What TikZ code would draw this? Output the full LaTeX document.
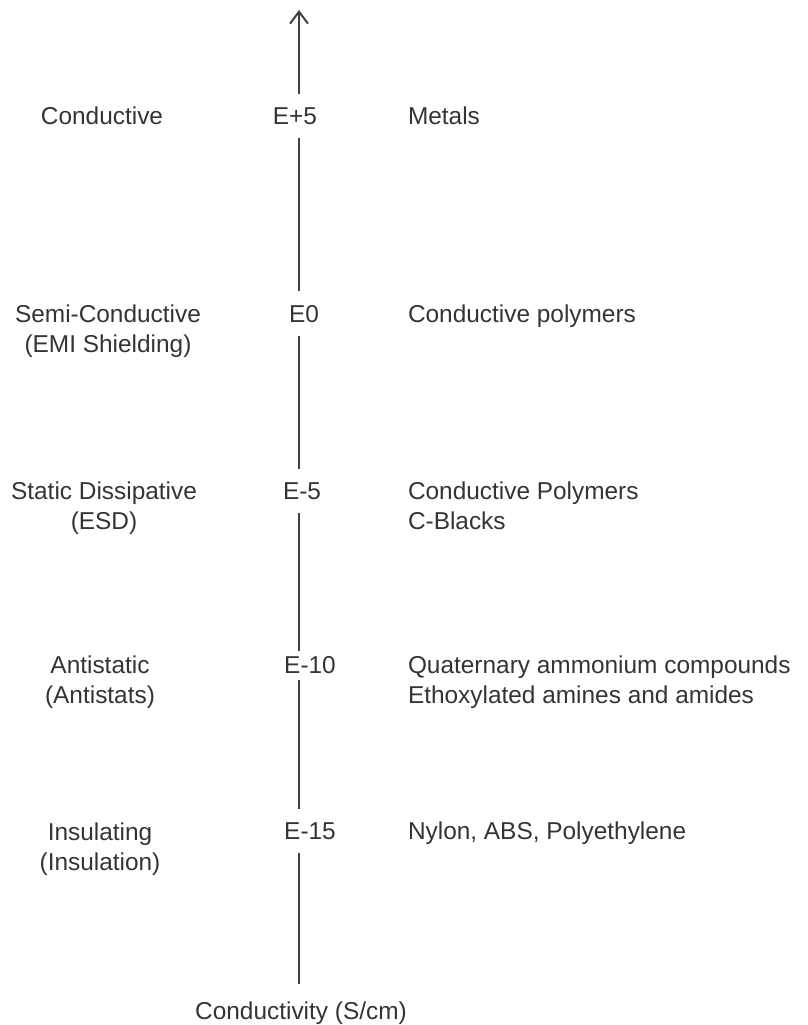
\documentclass[tikz,border=0pt]{standalone}
\usepackage{fontspec}
\setmainfont{Liberation Sans}
\usepackage{xcolor}
\usepackage{tikz}
\usetikzlibrary{arrows.meta}
\definecolor{cond@ink}{RGB}{52,52,52}
\definecolor{cond@line}{RGB}{64,64,64}
\tikzset{
  condscale/.style={
    x=1bp, y=-1bp,
    font=\fontsize{24.5}{30}\selectfont,
    >={Straight Barb[length=12bp,width=18bp]},
    line width=2bp
  },
  kind/.style={                    % class of material, left column (base = last line)
    anchor=base, align=center, inner sep=0pt, text=cond@ink
  },
  decade/.style={                  % value on the axis
    anchor=base, inner xsep=2bp, inner ysep=12.5bp, text=cond@ink
  },
  material/.style={                % typical materials, right column
    anchor=base west, align=left, inner sep=0pt, text=cond@ink
  },
  unitlabel/.style={anchor=base, inner xsep=2bp, inner ysep=16bp, text=cond@ink},
  axisline/.style={draw=cond@line, line width=2bp}
}
\begin{document}
\begin{tikzpicture}[condscale]
\useasboundingbox (0,0) rectangle (808,1025);

% left column: classes
\node[kind] (conductive) at (102,124) {Conductive};
\node[kind] (semi)       at (108,352) {Semi-Conductive\\(EMI Shielding)};
\node[kind] (static)     at (104,529) {Static Dissipative\\(ESD)};
\node[kind] (antistatic) at (100,703) {Antistatic\\(Antistats)};
\node[kind] (insulating) at (100,870) {Insulating\\(Insulation)};

% axis values
\node[decade] (v5)   at (295,124) {E+5};
\node[decade] (v0)   at (304,322) {E0};
\node[decade] (vm5)  at (302,499) {E-5};
\node[decade] (vm10) at (310,673) {E-10};
\node[decade] (vm15) at (310,839) {E-15};

% right column: materials
\node[material] (metals)   at (407,124) {Metals};
\node[material] (cpoly)    at (407,322) {Conductive polymers};
\node[material] (cblack)   at (407,529) {Conductive Polymers\\C-Blacks};
\node[material] (quat)     at (407,703) {Quaternary ammonium compounds\\Ethoxylated amines and amides};
\node[material] (nylon)    at (407,839) {Nylon, ABS, Polyethylene};

% axis
\coordinate (tip) at (299,10);
\node[unitlabel] (xlabel) at (301,1019) {Conductivity (S/cm)};
\draw[axisline,->] (v5.north -| tip) -- (tip);
\draw[axisline] (v5.south -| tip) -- (v0.north -| tip);
\draw[axisline] (v0.south -| tip) -- (vm5.north -| tip);
\draw[axisline, shorten >=-9bp] (vm5.south -| tip) -- (vm10.north -| tip);
\draw[axisline, shorten <=-7bp] (vm10.south -| tip) -- (vm15.north -| tip);
\draw[axisline] (vm15.south -| tip) -- (xlabel.north -| tip);

\end{tikzpicture}
\end{document}
